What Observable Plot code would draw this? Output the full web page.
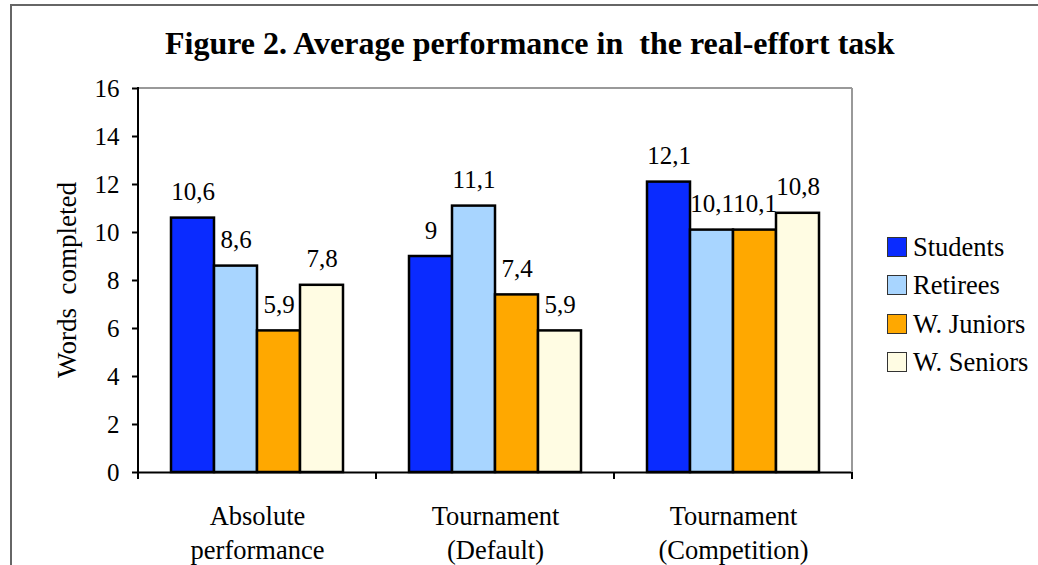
<!DOCTYPE html>
<html><head><meta charset="utf-8">
<script src="https://cdn.jsdelivr.net/npm/d3@7"></script>
<script src="https://cdn.jsdelivr.net/npm/@observablehq/plot@0.6"></script>
<style>
body{margin:0;background:#fff;}
#wrap{position:relative;width:1038px;height:565px;overflow:hidden;font-family:"Liberation Serif","Times New Roman",serif;color:#000;}
#frame{position:absolute;left:10px;top:4px;width:1100px;height:600px;border-top:2px solid #666;border-left:2px solid #666;}
#chart{position:absolute;left:0;top:0;}
#title{position:absolute;left:165px;top:27px;font-weight:bold;font-size:32px;line-height:1;white-space:pre;}
#ylabel{position:absolute;left:66.5px;top:280px;transform:translate(-50%,-50%) rotate(-90deg);font-size:27px;line-height:1;white-space:pre;}
#legend{position:absolute;left:887px;top:227.5px;font-size:26.5px;}
.row{display:flex;align-items:center;height:38.5px;line-height:38.5px;}
.sw{width:20px;height:20px;border:1px solid #333;margin-right:6px;box-sizing:border-box;}
</style>
</head><body>
<div id="wrap">
  <div id="frame"></div>
  <div id="chart"></div>
  <div id="title"></div>
  <div id="ylabel"></div>
  <div id="legend"></div>
</div>
<script>
const titleText = "Figure 2. Average performance in  the real-effort task";
const yLabel = "Words  completed";
const categories = ["Absolute\nperformance", "Tournament\n(Default)", "Tournament\n(Competition)"];
const series = ["Students", "Retirees", "W. Juniors", "W. Seniors"];
const students = [10.6, 9, 12.1];
const retirees = [8.6, 11.1, 10.1];
const juniors = [5.9, 7.4, 10.1];
const seniors = [7.8, 5.9, 10.8];
const colors = ["#0a2bff", "#a8d5ff", "#ffa800", "#fffce3"];
const yTicks = [0, 2, 4, 6, 8, 10, 12, 14, 16];

const valuesBySeries = [students, retirees, juniors, seniors];
const data = categories.flatMap((c, i) => series.map((s, j) => ({cat: c, series: s, value: valuesBySeries[j][i]})));
const fmt = v => String(v).replace(".", ",");

document.getElementById("title").textContent = titleText;
document.getElementById("ylabel").textContent = yLabel;

const plot = Plot.plot({
  width: 1038, height: 565,
  marginLeft: 138, marginRight: 186, marginTop: 88, marginBottom: 93,
  style: {fontFamily: "'Liberation Serif', 'Times New Roman', serif", fontSize: "25px", color: "#000", background: "transparent", overflow: "visible"},
  fx: {domain: categories, padding: 0, label: null},
  x: {domain: series, paddingInner: 0, paddingOuter: 0.736, axis: null},
  y: {domain: [0, 16], label: null},
  color: {domain: series, range: colors},
  marks: [
    Plot.barY(data, {fx: "cat", x: "series", y: "value", fill: "series", stroke: "#000", strokeWidth: 2.5}),
    Plot.text(data, {fx: "cat", x: "series", y: "value", text: d => fmt(d.value), dy: -18, lineAnchor: "bottom", fontSize: 25, fill: "#000"}),
    Plot.ruleY([0], {stroke: "#000", strokeWidth: 2}),
    Plot.axisY({ticks: yTicks, tickSize: 6, tickPadding: 13, fontSize: 25, label: null, strokeWidth: 2, tickFormat: d => String(d)}),
    Plot.axisFx({anchor: "bottom", tickSize: 0, tickPadding: 28.5, fontSize: 26.5, lineHeight: 1.28, label: null})
  ]
});
document.getElementById("chart").appendChild(plot);

// plot-area decorations derived from Plot's own scales
const svg = d3.select(plot);
const fx = plot.scale("fx"), y = plot.scale("y");
const y0 = y.apply(0), yTop = y.apply(16);
const xs = categories.map(c => fx.apply(c));
const left = xs[0], right = xs[xs.length - 1] + fx.bandwidth;
const g = svg.append("g");
g.append("line").attr("x1", left).attr("x2", right).attr("y1", yTop).attr("y2", yTop).attr("stroke", "#999").attr("stroke-width", 2);
g.append("line").attr("x1", right).attr("x2", right).attr("y1", yTop).attr("y2", y0).attr("stroke", "#999").attr("stroke-width", 2);
g.append("line").attr("x1", left).attr("x2", left).attr("y1", yTop - 1).attr("y2", y0).attr("stroke", "#000").attr("stroke-width", 2);
[...xs, right].forEach(x => {
  g.append("line").attr("x1", x).attr("x2", x).attr("y1", y0).attr("y2", y0 + 7).attr("stroke", "#000").attr("stroke-width", 2);
});

// legend
const lg = d3.select("#legend");
series.forEach((s, i) => {
  const row = lg.append("div").attr("class", "row");
  row.append("div").attr("class", "sw").style("background", colors[i]);
  row.append("span").text(s);
});
</script>
</body></html>
